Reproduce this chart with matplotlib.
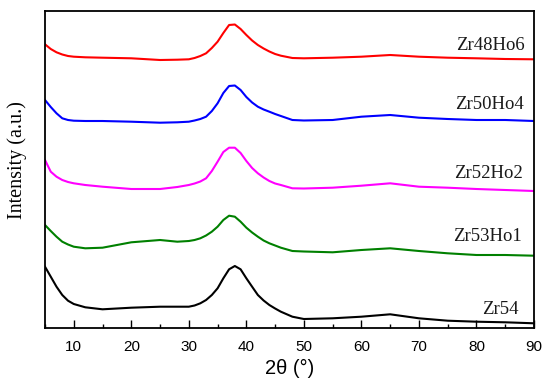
import matplotlib
matplotlib.use("Agg")
import matplotlib.pyplot as plt
from matplotlib.ticker import MultipleLocator

# 2-theta sample positions (degrees)
two_theta = [5, 6, 7, 8, 9, 10, 12, 15, 20, 25, 28, 30, 31, 32, 33, 34, 35, 36, 37, 38,
             39, 40, 41, 42, 43, 44, 45, 46, 48, 50, 55, 60, 65, 70, 75, 80, 85, 90]

# Intensities (arbitrary units, offset stacked)
zr48ho6 = [283.7, 279, 275.7, 273.5, 272, 271.3, 270.7, 270.3, 269.7, 268, 268.3, 268.7,
           270, 272, 274.7, 280, 286.3, 295, 303, 303.5, 299, 293, 287.5, 283, 279.5,
           276.5, 274, 272.3, 270, 269.7, 270.3, 271.3, 273, 271.3, 270.3, 269.7, 269, 268.7]
zr50ho4 = [228, 221, 214.7, 209.7, 208, 207.3, 207, 207, 206.3, 205.3, 205.7, 206.3,
           207.5, 209, 211.3, 217, 224.7, 235, 242, 242.5, 238, 231, 225.5, 221.3, 218.5,
           216.3, 214, 212, 208, 207.5, 208, 211.3, 213, 210.3, 209, 208, 208, 207]
zr52ho2 = [168, 156.3, 151.3, 148, 146, 144.7, 143, 141.3, 139, 139, 141, 143,
           144.5, 146.5, 149.7, 157, 166.3, 176, 180.3, 180.3, 175, 167, 160, 154.7, 150.5,
           147, 144.5, 143, 139.7, 139.5, 140.3, 142.3, 144.7, 141.3, 140.3, 139, 138, 137]
zr53ho1 = [103, 97, 91.3, 86.3, 83.5, 81.3, 79.7, 80.3, 85.7, 88, 86.3, 87,
           88, 89.7, 92.5, 96.3, 101.3, 108, 112.3, 111.3, 106.3, 100.3, 95.5, 91.3, 87.5,
           84.7, 82.5, 80.3, 77, 76.5, 75.7, 78, 79.7, 77, 74.7, 73, 73, 72.3]
zr54 = [61.3, 51.3, 41.3, 33, 27.3, 24, 20.7, 18.7, 20.3, 21.3, 21.3, 21.3,
        22.5, 24.7, 28, 33, 39.7, 49.7, 58.7, 62, 58.7, 49.7, 41.3, 33, 27.5,
        23, 19.5, 16.3, 11.3, 9, 9.7, 11.3, 13.7, 9.7, 7.3, 6.3, 5.7, 4.7]

series = [zr48ho6, zr50ho4, zr52ho2, zr53ho1, zr54]
names = ["Zr48Ho6", "Zr50Ho4", "Zr52Ho2", "Zr53Ho1", "Zr54"]
colors = ["#ff0000", "#0000ff", "#ff00ff", "#008000", "#000000"]
label_x = [88.4, 88.3, 88.0, 87.8, 87.3]
label_y = [278, 219, 150, 87, 14]
xticks = [10, 20, 30, 40, 50, 60, 70, 80, 90]

fig = plt.figure(figsize=(5.5, 3.91), dpi=100)
ax = fig.add_axes([45 / 550, 1 - 328 / 391, (534 - 45) / 550, (328 - 10.7) / 391])

for ys, c in zip(series, colors):
    ax.plot(two_theta, ys, color=c, lw=1.5)

for name, lx, ly in zip(names, label_x, label_y):
    ax.text(lx, ly, name, ha="right", va="baseline", fontsize=13.5,
            family="Liberation Serif", color="#1a1a1a")

ax.set_xlim(5, 90)
ax.set_ylim(0, 317.3)
ax.set_xticks(xticks)
ax.set_xticklabels([str(t) for t in xticks], family="Liberation Sans", fontsize=11)
ax.xaxis.set_minor_locator(MultipleLocator(5))
ax.set_yticks([])
ax.tick_params(axis="x", which="major", direction="in", length=5.5, width=1.0,
               top=False, pad=8.5)
ax.tick_params(axis="x", which="minor", direction="in", length=2.8, width=1.0,
               top=False)
for s in ax.spines.values():
    s.set_linewidth(1.3)

ax.set_xlabel("2θ (°)", family="Liberation Sans", fontsize=14.5, labelpad=4)
ax.set_ylabel("Intensity (a.u.)", family="Liberation Serif", fontsize=14.5)
ax.yaxis.set_label_coords(-0.037, 0.53)

fig.savefig("out.png", dpi=100)
